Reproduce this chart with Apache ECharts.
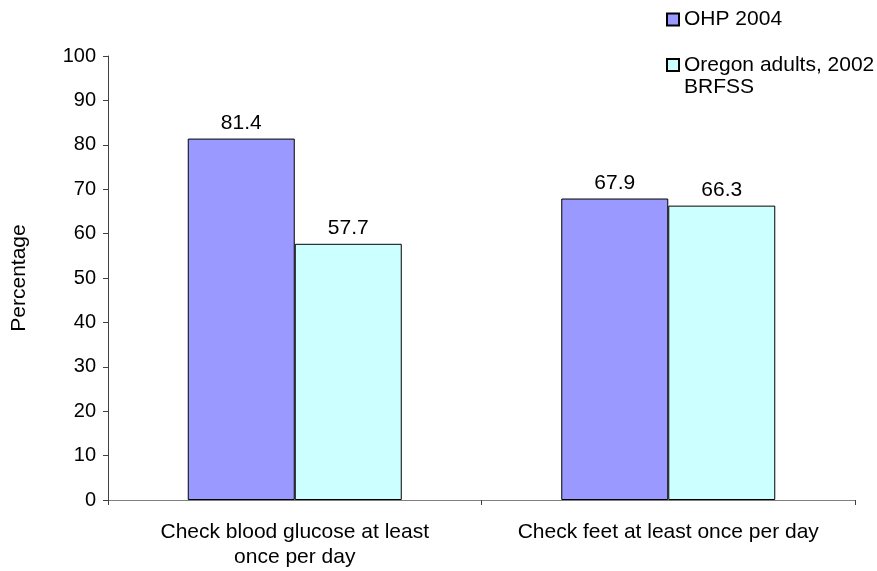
<!DOCTYPE html>
<html>
<head>
<meta charset="utf-8">
<script src="https://cdn.jsdelivr.net/npm/echarts@6/dist/echarts.min.js"></script>
<style>html,body{margin:0;padding:0;background:#fff}#c{width:877px;height:571px}</style>
</head>
<body>
<div id="c"></div>
<script>
var categories = ['Check blood glucose at least\nonce per day', 'Check feet at least once per day'];
var seriesNames = ['OHP 2004', 'Oregon adults, 2002 BRFSS'];
var ohp2004 = [81.4, 67.9];
var oregon2002 = [57.7, 66.3];
var yTicks = { min: 0, max: 100, interval: 10 };

var font = 'Liberation Sans, Arial, sans-serif';
var chart = echarts.init(document.getElementById('c'));
var labelCfg = { show: true, position: 'top', distance: 5, color: '#000', fontFamily: font, fontSize: 21, formatter: function (p) { return p.value.toFixed(1); } };
chart.setOption({
  animation: false,
  backgroundColor: '#fff',
  grid: { left: 108, right: 22, top: 56, bottom: 71, containLabel: false, outerBoundsMode: 'none' },
  legend: [
    {
      data: [seriesNames[0]], left: 666, top: 9, padding: 0, itemWidth: 12, itemHeight: 12, itemGap: 5,
      icon: 'rect', selectedMode: false,
      textStyle: { color: '#000', fontFamily: font, fontSize: 21 }
    },
    {
      data: [seriesNames[1]], left: 666, top: 32, padding: 0, itemWidth: 12, itemHeight: 12, itemGap: 5,
      icon: 'rect', selectedMode: false,
      formatter: function () { return ' \nOregon adults, 2002\nBRFSS'; },
      textStyle: { color: '#000', fontFamily: font, fontSize: 21, lineHeight: 22 }
    }
  ],
  xAxis: {
    type: 'category', data: categories,
    axisLine: { show: true, lineStyle: { color: '#808080', width: 1 } },
    axisTick: { show: true, alignWithLabel: false, length: 5, lineStyle: { color: '#404040' } },
    axisLabel: { interval: 0, margin: 20, color: '#000', fontFamily: font, fontSize: 21, lineHeight: 25 },
    splitLine: { show: false }
  },
  yAxis: {
    type: 'value', min: yTicks.min, max: yTicks.max, interval: yTicks.interval,
    name: 'Percentage', nameLocation: 'middle', nameGap: 78, nameRotate: 90,
    nameTextStyle: { color: '#000', fontFamily: font, fontSize: 21 },
    axisLine: { show: true, lineStyle: { color: '#404040', width: 1 } },
    axisTick: { show: true, length: 5, lineStyle: { color: '#404040' } },
    axisLabel: { margin: 12, color: '#000', fontFamily: font, fontSize: 20 },
    splitLine: { show: false }
  },
  series: [
    { name: seriesNames[0], type: 'bar', data: ohp2004, barWidth: 107, barGap: '0%',
      itemStyle: { color: '#9999FF', borderColor: '#000', borderWidth: 1 }, label: labelCfg },
    { name: seriesNames[1], type: 'bar', data: oregon2002, barWidth: 107, barGap: '0%',
      itemStyle: { color: '#CCFFFF', borderColor: '#000', borderWidth: 1 }, label: labelCfg }
  ]
});
</script>
</body>
</html>
